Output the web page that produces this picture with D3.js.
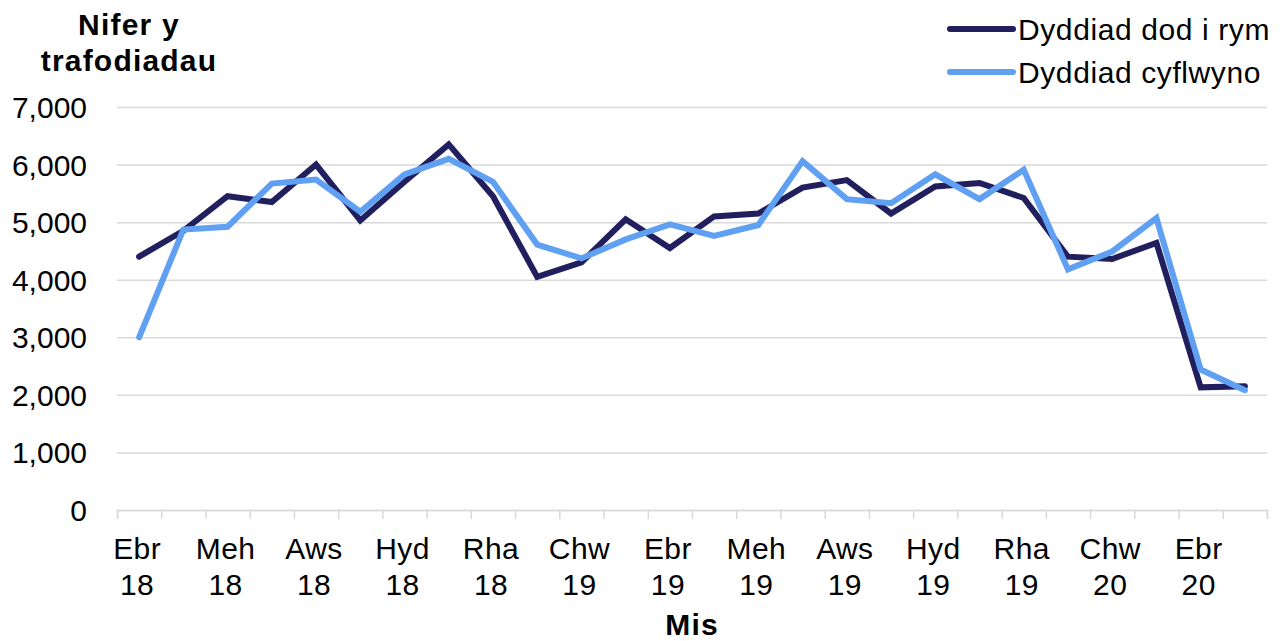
<!DOCTYPE html>
<html lang="cy">
<head>
    <meta charset="UTF-8">
    <title>Nifer y trafodiadau</title>
    <style>
        body { margin: 0; background: #fff; }
        svg { display: block; font-family: "Liberation Sans", Arial, sans-serif; }
    </style>
</head>
<body>
    <svg id="vis"></svg>
    <script src="https://d3js.org/d3.v7.min.js"></script>
    <script>
        // Data
        const months = ['Ebr', 'Mai', 'Meh', 'Gor', 'Aws', 'Med', 'Hyd', 'Tach', 'Rha', 'Ion', 'Chw', 'Maw',
            'Ebr', 'Mai', 'Meh', 'Gor', 'Aws', 'Med', 'Hyd', 'Tach', 'Rha', 'Ion', 'Chw', 'Maw',
            'Ebr', 'Mai']
        const years = ['18', '18', '18', '18', '18', '18', '18', '18', '18', '19', '19', '19',
            '19', '19', '19', '19', '19', '19', '19', '19', '19', '20', '20', '20',
            '20', '20']
        const dodIRym = [4400, 4850, 5450, 5350, 6000, 5030, 5700, 6350, 5450, 4050, 4300, 5050,
            4550, 5100, 5150, 5600, 5730, 5150, 5620, 5680, 5420, 4400, 4360, 4640,
            2130, 2150]
        const cyflwyno = [3000, 4870, 4920, 5670, 5740, 5180, 5830, 6100, 5700, 4610, 4370, 4700,
            4960, 4760, 4950, 6060, 5400, 5330, 5830, 5400, 5910, 4180, 4490, 5070,
            2440, 2080]
        const yTicks = [0, 1000, 2000, 3000, 4000, 5000, 6000, 7000]

        const series = [
            { name: 'Dyddiad dod i rym', values: dodIRym, color: '#221f5e' },
            { name: 'Dyddiad cyflwyno', values: cyflwyno, color: '#60a0f2' }
        ]

        // Layout
        const width = 1284
        const height = 641
        const plotLeft = 117
        const plotRight = 1267
        const plotTop = 107
        const plotBottom = 510
        const fontSize = 30
        const gridColor = '#d9d9d9'

        const svg = d3.select('#vis')
            .attr('width', width)
            .attr('height', height)

        const x = d3.scaleBand()
            .domain(d3.range(months.length))
            .range([plotLeft, plotRight])
            .padding(0)

        const xEdges = d3.scaleLinear()
            .domain([0, months.length])
            .range([plotLeft, plotRight])

        const y = d3.scaleLinear()
            .domain([0, 7000])
            .range([plotBottom, plotTop])

        // Gridlines + y labels
        const yAxis = svg.append('g')
            .attr('transform', `translate(${plotLeft},0)`)
            .call(d3.axisLeft(y)
                .tickValues(yTicks)
                .tickSize(-(plotRight - plotLeft))
                .tickPadding(30)
                .tickFormat(d3.format(',')))
        yAxis.select('.domain').remove()
        yAxis.selectAll('.tick line')
            .attr('stroke', gridColor)
            .attr('stroke-width', 1.5)
        yAxis.selectAll('.tick text')
            .attr('font-size', fontSize)
            .attr('font-family', '"Liberation Sans", Arial, sans-serif')
            .attr('fill', '#000')
            .attr('dy', '0.35em')

        // X axis ticks at category edges
        const xAxis = svg.append('g')
            .attr('transform', `translate(0,${plotBottom})`)
            .call(d3.axisBottom(xEdges)
                .tickValues(d3.range(months.length + 1))
                .tickSize(9)
                .tickFormat(''))
        xAxis.select('.domain')
            .attr('stroke', gridColor)
            .attr('stroke-width', 1.5)
        xAxis.selectAll('.tick line')
            .attr('stroke', gridColor)
            .attr('stroke-width', 1.5)

        // X labels, every second month
        const labels = svg.append('g')
            .selectAll('text')
            .data(d3.range(0, months.length, 2))
            .join('text')
            .attr('text-anchor', 'middle')
            .attr('font-size', fontSize)
            .attr('letter-spacing', 0.4)
            .attr('fill', '#000')
        labels.append('tspan')
            .attr('x', i => x(i) + x.bandwidth() / 2 - 2)
            .attr('y', 559)
            .text(i => months[i])
        labels.append('tspan')
            .attr('x', i => x(i) + x.bandwidth() / 2 - 2)
            .attr('y', 595)
            .text(i => years[i])

        // Lines
        const line = d3.line()
            .x((d, i) => x(i) + x.bandwidth() / 2)
            .y(d => y(d))

        svg.append('g')
            .selectAll('path')
            .data(series)
            .join('path')
            .attr('d', d => line(d.values))
            .attr('fill', 'none')
            .attr('stroke', d => d.color)
            .attr('stroke-width', 6)
            .attr('stroke-linejoin', 'miter')
            .attr('stroke-linecap', 'round')

        // Axis titles
        const yTitle = svg.append('text')
            .attr('text-anchor', 'middle')
            .attr('font-size', fontSize)
            .attr('font-weight', 'bold')
            .attr('letter-spacing', 1.2)
            .attr('fill', '#000')
        yTitle.append('tspan').attr('x', 129).attr('y', 35).text('Nifer y')
        yTitle.append('tspan').attr('x', 129).attr('y', 71).text('trafodiadau')

        svg.append('text')
            .attr('x', (plotLeft + plotRight) / 2)
            .attr('y', 635)
            .attr('text-anchor', 'middle')
            .attr('font-size', fontSize)
            .attr('font-weight', 'bold')
            .attr('letter-spacing', 1.2)
            .attr('fill', '#000')
            .text('Mis')

        // Legend
        const legend = svg.append('g')
            .selectAll('g')
            .data(series)
            .join('g')
            .attr('transform', (d, i) => `translate(950,${29 + i * 43})`)
        legend.append('line')
            .attr('x1', 0)
            .attr('x2', 63)
            .attr('stroke', d => d.color)
            .attr('stroke-width', 6)
            .attr('stroke-linecap', 'round')
        legend.append('text')
            .attr('x', 68)
            .attr('dy', '0.35em')
            .attr('font-size', fontSize)
            .attr('letter-spacing', 0.6)
            .attr('fill', '#000')
            .text(d => d.name)
    </script>
</body>
</html>
